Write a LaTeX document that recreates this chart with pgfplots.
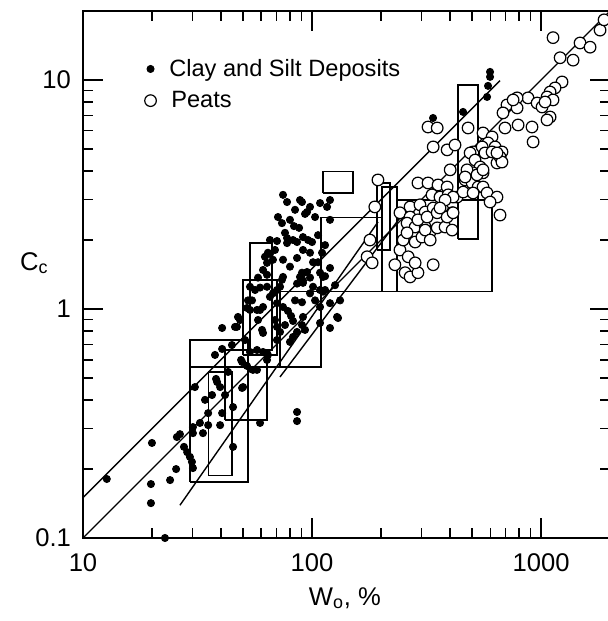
\documentclass[border=0pt]{standalone}
\usepackage{pgfplots}
\pgfplotsset{compat=1.18}
\usepackage{fontspec}
\setmainfont{Liberation Sans}

\begin{document}
\begin{tikzpicture}
\begin{axis}[
  at={(0,0)}, anchor=south west,
  scale only axis, width=263.5pt, height=263.5pt,
  xmode=log, ymode=log,
  xmin=10, xmax=2000, ymin=0.1, ymax=20,
  xtick={10,100,1000}, xticklabels={10,100,1000},
  ytick={0.1,1,10}, yticklabels={0.1,1,10},
  minor xtick={20,30,40,50,60,70,80,90,200,300,400,500,600,700,800,900},
  minor ytick={0.2,0.3,0.4,0.5,0.6,0.7,0.8,0.9,2,3,4,5,6,7,8,9},
  tick align=inside,
  major tick length=10pt, minor tick length=5pt,
  axis line style={line width=1pt},
  tick style={black, line width=0.75pt},
  /pgf/number format/assume math mode=true,
  tick label style={font=\fontsize{12.8}{14}\selectfont},
  xticklabel style={yshift=-4.5pt},
  yticklabel style={xshift=-2.5pt},
  xlabel={W\textsubscript{o}, \%},
  ylabel={C\textsubscript{c}},
  label style={font=\fontsize{12.8}{14}\selectfont},
  xlabel style={at={(axis description cs:0.497,0)}, anchor=base, yshift=-33.5pt},
  ylabel style={rotate=-90, at={(axis description cs:0,0.5085)}, anchor=base west, xshift=-35pt},
  clip mode=individual,
  legend style={draw=none, fill=none, at={(axis description cs:0.105,0.925)}, anchor=north west,
    font=\fontsize{11.8}{13.5}\selectfont, row sep=2pt},
  legend cell align=left,
  box/.style={black, line width=0.65pt, forget plot},
  trend/.style={black, line width=0.7pt, forget plot},
]

% bounds of individual deposits
\addplot[box] coordinates {(111.7,3.21) (151,3.21) (151,3.97) (111.7,3.97) (111.7,3.21)};
\addplot[box] coordinates {(434.1,2.02) (530.7,2.02) (530.7,9.51) (434.1,9.51) (434.1,2.02)};
\addplot[box] coordinates {(192.2,1.81) (219.1,1.81) (219.1,3.55) (192.2,3.55) (192.2,1.81)};
\addplot[box] coordinates {(202.2,1.19) (235,1.19) (235,3.41) (202.2,3.41) (202.2,1.19)};
\addplot[box] coordinates {(235,1.19) (610.9,1.19) (610.9,2.99) (235,2.99) (235,1.19)};
\addplot[box] coordinates {(29.3,0.558) (109.5,0.558) (109.5,2.50) (202.2,2.50)};
\addplot[box] coordinates {(72.5,0.558) (109.5,0.558) (109.5,1.19) (72.5,1.19) (72.5,0.558)};
\addplot[box] coordinates {(109.5,1.19) (235,1.19)};
\addplot[box] coordinates {(53.6,0.662) (66.9,0.662) (66.9,1.94) (53.6,1.94) (53.6,0.662)};
\addplot[box] coordinates {(50.0,0.630) (70.3,0.630) (70.3,1.34) (50.0,1.34) (50.0,0.630)};
\addplot[box] coordinates {(29.3,0.1756) (52.5,0.1756) (52.5,0.732) (29.3,0.732) (29.3,0.1756)};
\addplot[box] coordinates {(35.2,0.188) (44.7,0.188) (44.7,0.531) (35.2,0.531) (35.2,0.188)};
\addplot[box] coordinates {(41.7,0.328) (63.6,0.328) (63.6,0.662) (41.7,0.662) (41.7,0.328)};

% trend lines
\addplot[trend] coordinates {(10,0.15) (662,9.93)};
\addplot[trend] coordinates {(10,0.1) (2000,20)};
\addplot[trend] coordinates {(26.5,0.139) (194.2,2.40)};
\addplot[trend] coordinates {(72.5,0.505) (247.2,2.57)};

% clay and silt deposits
\addplot[only marks, mark=*, mark size=1.8pt, mark options={fill=black, draw=black}]
coordinates {
(12.7,0.181)(20.0,0.260)(19.8,0.172)(19.8,0.142)(24.0,0.179)(25.5,0.200)(22.8,0.100)
(25.7,0.276)(26.5,0.284)(27.6,0.250)(28.5,0.237)(29.3,0.226)(29.9,0.215)(30.2,0.202)
(30.2,0.287)(30.2,0.305)(30.8,0.456)(35.2,0.311)(39.7,0.311)(35.2,0.351)(38.1,0.495)
(39.7,0.456)(40.5,0.826)(40.5,0.669)(40.5,0.351)(45.2,0.373)(45.2,0.250)(50.0,0.456)
(49.0,0.599)(47.0,0.835)(48.5,0.895)(52.0,1.01)(52.5,1.09)(59.3,0.318)(60.5,0.810)
(57.5,0.542)(63.6,0.599)(86.0,0.355)(86.0,0.324)(53.6,0.990)(59.3,0.990)(65.5,1.13)
(70.3,1.06)(74.7,1.02)(78.5,0.980)(81.0,0.932)(82.6,0.886)(90.4,1.07)(49.5,0.587)
(53.6,0.649)(57.5,0.662)(61.1,0.649)(64.2,0.630)(55.2,0.542)(38.5,0.480)(49.5,0.452)
(72.5,0.794)(70.3,0.732)(54.7,1.09)(86.0,0.794)(77.8,1.94)(86.0,1.96)(91.3,1.81)
(98.0,1.76)(62.3,1.69)(64.2,1.76)(68.9,1.81)(80.1,1.53)(90.4,1.44)(98.0,1.37)
(74.7,1.38)(72.5,1.25)(108.4,1.44)(114.0,1.39)(119.8,1.51)(63.6,1.41)(53.6,1.25)
(56.4,1.21)(59.3,1.24)(57.5,0.990)(61.1,1.02)(47.5,0.923)(46.1,0.835)(61.1,0.786)
(70.3,0.835)(52.0,0.564)(108.4,1.02)(119.8,1.06)(128.6,0.923)(119.8,0.826)(108.4,0.869)
(91.3,0.923)(77.8,2.93)(90.4,2.93)(95.1,2.65)(71.0,2.52)(73.9,2.37)(80.1,2.45)
(83.4,2.30)(87.8,2.26)(76.2,2.15)(77.8,2.04)(91.3,2.06)(96.1,2.00)(70.3,1.98)
(82.6,2.00)(65.5,1.74)(95.1,1.45)(73.9,1.34)(91.3,1.33)(86.0,1.29)(88.6,2.99)
(98.0,2.79)(108.4,2.90)(116.3,2.79)(119.8,2.99)(93.2,2.60)(103.1,2.52)(119.8,2.45)
(100,1.96)(110.6,1.76)(101.0,1.60)(101.0,1.25)(108.4,1.21)(111.7,1.19)(129.9,0.913)
(93.2,0.810)(598.7,10.84)(598.7,10.31)(586.8,9.42)(581.0,8.43)(337.6,6.82)(456.5,7.25)
(67.5,1.64)(63.6,1.59)(63.6,1.25)(70.3,1.21)
(88.6,1.38)(91.3,1.30)(111.7,1.38)(98.0,1.17)(90.4,0.851)(82.6,0.755)(80.1,0.718)
(33.4,0.287)(32.4,0.318)(58.1,0.895)(51.0,0.732)(44.7,0.696)(68.9,0.895)(76.2,0.851)
(84.3,1.09)(103.1,1.09)(114.0,1.21)(65.5,2.00)(61.1,1.48)(74.7,1.64)(86.0,1.67)
(106.2,1.60)(58.1,1.37)(67.5,1.17)(84.3,2.71)(74.7,3.15)(106.2,2.10)(114.0,1.90)
(126.0,1.27)(132.6,1.09)(34.1,0.401)(36.6,0.421)(41.7,0.421)(37.7,0.630)(43.0,0.531)
};
\addlegendentry{\hspace{4.5pt}Clay and Silt Deposits}

% peats
\addplot[only marks, mark=*, mark size=2.9pt, mark options={fill=white, draw=black, line width=0.6pt}]
coordinates {
(1128,15.3)(1480,14.5)(1637,13.9)(1810,16.5)(1884,18.3)(1211,12.5)(1380,12.2)
(1235,9.80)(1151,9.23)(1095,8.86)(1062,8.43)(1128,8.18)(877,8.35)(786,8.35)
(710,7.78)(682,7.18)(786,7.55)(755,8.18)(961,7.93)(1010,7.62)(1041,8.01)
(1095,6.89)(1062,6.69)(913,6.23)(923,5.36)(794,6.36)(696,6.17)(480,6.17)
(558,5.87)(611,5.64)(587,5.31)(630,5.10)(675,4.85)(505,4.85)(553,5.10)
(321,6.23)(352,6.17)(338,5.10)(389,4.95)(421,5.20)(401,4.05)(194,3.66)
(290,3.55)(321,3.55)(355,3.48)(389,3.41)(334,3.15)(362,3.08)(393,3.15)
(430,3.08)(188,2.79)(268,2.79)(296,2.85)(312,2.65)(338,2.76)(373,2.71)
(409,2.63)(242,2.63)(268,2.52)(260,2.37)(282,2.28)(312,2.28)(328,2.17)
(352,2.26)(381,2.28)(409,2.21)(569,4.80)(611,4.85)(642,4.34)(662,4.61)
(490,4.80)(515,4.47)(542,4.17)(558,3.93)(505,3.93)(475,4.05)(466,3.66)
(500,3.55)(531,3.41)(558,3.41)(581,3.21)(642,3.08)(662,2.57)(599,2.93)
(179,2.00)(174,1.69)(183,1.59)(230,1.56)(242,1.81)(250,2.00)(260,2.15)
(282,1.96)(302,2.06)(312,2.21)(328,2.00)(263,1.69)(255,1.44)(268,1.38)
(290,1.44)(282,1.59)(338,1.56)(290,2.45)(318,2.52)(352,2.63)(389,2.52)
(413,2.63)(466,3.77)(525,3.85)(558,4.05)(675,4.38)(642,4.80)(457,3.24)
(505,3.21)(413,3.08)(381,2.99)(362,2.76)
};
\addlegendentry{\hspace{5.5pt}Peats}
\end{axis}
\pgfresetboundingbox
\useasboundingbox (-41.5pt,-41.5pt) rectangle (262pt,269pt);
\end{tikzpicture}
\end{document}
